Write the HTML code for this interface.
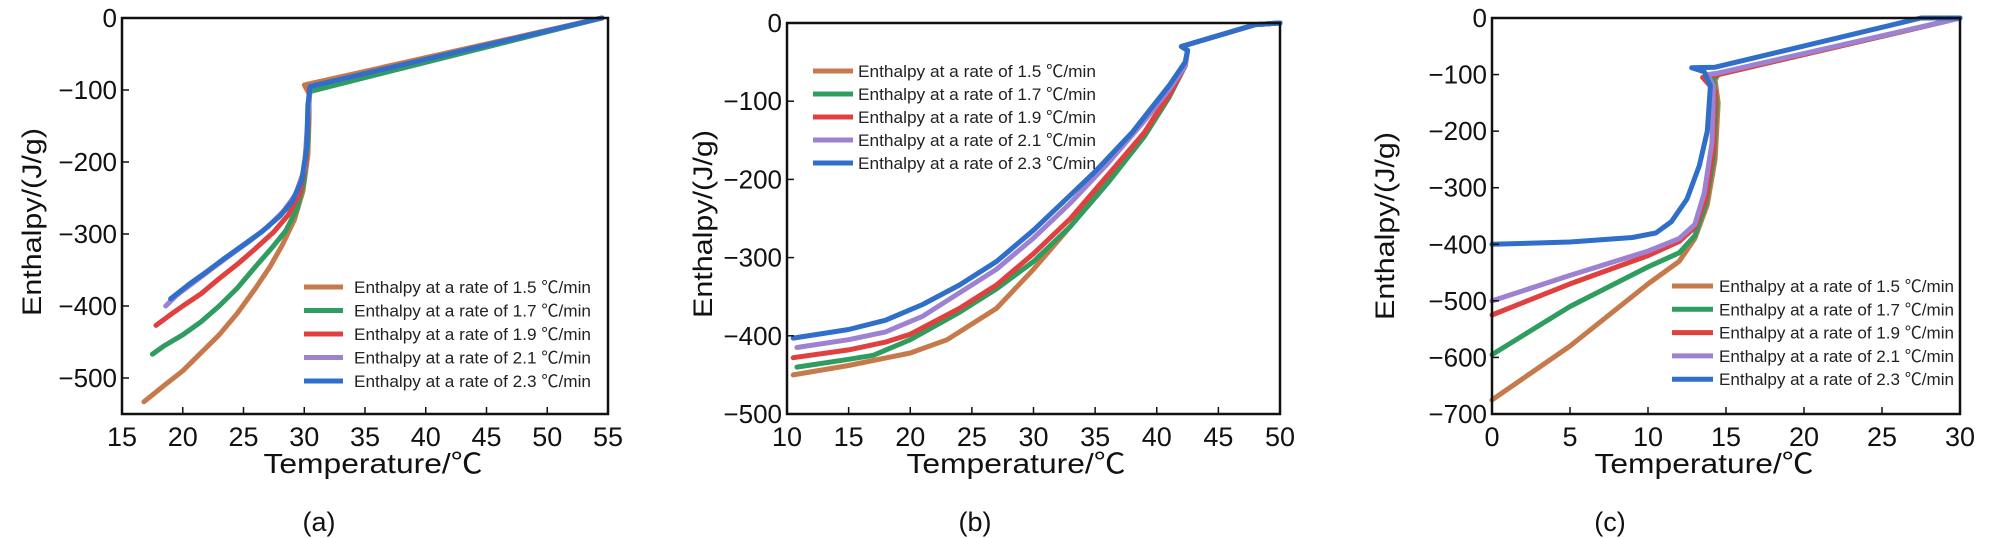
<!DOCTYPE html>
<html><head><meta charset="utf-8"><style>
html,body{margin:0;padding:0;background:#fff;}
svg{display:block;font-family:"Liberation Sans","Noto Sans CJK SC",sans-serif;}
</style></head><body>
<svg id="fig" width="2006" height="538" viewBox="0 0 2006 538"></svg>
<script>
const seriesLabels = ["1.5","1.7","1.9","2.1","2.3"];
const seriesColors = ["#c67a4c","#2f9d5f","#e0413f","#9d82d2","#2f6ec9"];

// Panel (a)
const aXTicks = [15,20,25,30,35,40,45,50,55];
const aYTicks = [0,-100,-200,-300,-400,-500];
const aT = [
 [16.8,18.5,20,21.5,23,24.5,26,27.2,28.2,29.2,29.9,30.3,30.4,30.4,30,54.5],
 [17.5,18.5,20,21.5,23,24.5,26,27.3,28.5,29.4,30,30.3,30.4,30.5,54.5],
 [17.8,19,20,21.5,23,24.5,26,27.5,28.7,29.6,30.1,30.3,30.4,30.5,54.5],
 [18.6,19.5,21,22.5,24,25.5,27,28.3,29.3,30,30.3,30.5,54.5],
 [19,20.5,22,23.5,25,26.5,28,29,29.8,30.2,30.3,30.5,54.5]];
const aH = [
 [-533,-510,-490,-465,-440,-410,-375,-345,-315,-280,-240,-190,-140,-105,-93,0],
 [-467,-455,-440,-422,-400,-375,-345,-320,-295,-265,-225,-170,-110,-102,0],
 [-427,-412,-400,-383,-362,-342,-320,-297,-273,-245,-205,-150,-100,-95,0],
 [-400,-385,-366,-347,-328,-310,-290,-268,-245,-210,-140,-95,0],
 [-390,-370,-352,-333,-315,-297,-275,-255,-225,-180,-120,-95,0]];

// Panel (b)
const bXTicks = [10,15,20,25,30,35,40,45,50];
const bYTicks = [0,-100,-200,-300,-400,-500];
const bT = [
 [10.5,15,20,23,27,30,33,36,39,41,42.3,42.5,42,48,50],
 [10.8,15,17,20,24,27,30,33,36,39,41,42.3,42.5,42,48,50],
 [10.5,15,18,20,24,27,30,33,36,39,41,42.3,42.5,42,48,50],
 [10.8,15,18,21,24,27,30,33,36,39,41,42.3,42.5,42,48,50],
 [10.5,15,18,21,24,27,30,33,35,38,41,42.3,42.5,42,48,50]];
const bH = [
 [-450,-438,-422,-405,-365,-315,-260,-200,-140,-90,-55,-35,-30,-2,0],
 [-440,-430,-425,-405,-370,-340,-305,-260,-205,-145,-95,-55,-35,-30,-2,0],
 [-428,-418,-408,-398,-365,-335,-295,-250,-195,-140,-92,-55,-35,-30,-2,0],
 [-415,-405,-395,-375,-345,-315,-275,-230,-180,-125,-85,-55,-35,-30,-2,0],
 [-403,-392,-380,-360,-335,-305,-265,-220,-190,-140,-80,-50,-35,-30,-2,0]];

// Panel (c)
const cXTicks = [0,5,10,15,20,25,30];
const cYTicks = [0,-100,-200,-300,-400,-500,-600,-700];
const cT = [
 [0,5,10,12,13,13.8,14.3,14.5,14.3,14.5,30],
 [0,5,10,12,13,13.7,14.2,14.4,14.2,14.5,30],
 [0,5,10,12,13,13.7,14.2,14.3,13.5,14.5,30],
 [0,5,10,12,13,13.6,14.1,14.2,13.8,14.4,30],
 [0,5,9,10.5,11.5,12.5,13.3,13.8,14,13.6,12.8,14.3,27.5,30]];
const cH = [
 [-675,-580,-470,-430,-390,-330,-250,-150,-110,-100,0],
 [-595,-510,-440,-415,-385,-330,-250,-150,-108,-100,0],
 [-525,-470,-420,-395,-370,-320,-230,-130,-105,-100,0],
 [-500,-455,-412,-390,-365,-310,-220,-120,-100,-98,0],
 [-400,-396,-388,-380,-360,-320,-260,-200,-120,-95,-88,-87,0,0]];

const NS="http://www.w3.org/2000/svg";
const svg=document.getElementById('fig');
function mk(tag,attrs,parent){const e=document.createElementNS(NS,tag);for(const k in attrs)e.setAttribute(k,attrs[k]);(parent||svg).appendChild(e);return e;}

function panel(id,box,xr,yr,xt,yt,T,H,leg,ytx,ytyc,xtc,lab){
  const g=mk('g',{});
  
  
  const sx=v=>box.l+(v-xr[0])/(xr[1]-xr[0])*(box.r-box.l);
  const sy=v=>box.t+(yr[1]-v)/(yr[1]-yr[0])*(box.b-box.t);
  for(let s=0;s<T.length;s++){
    const d=T[s].map((t,i)=>(i?'L':'M')+sx(t).toFixed(1)+','+sy(H[s][i]).toFixed(1)).join(' ');
    const p=mk('path',{d:d,fill:'none',stroke:seriesColors[s],'stroke-width':5,'stroke-linejoin':'round','stroke-linecap':'round'},g);
    
    
  }
  const frame=mk('rect',{x:box.l,y:box.t,width:box.r-box.l,height:box.b-box.t,fill:'none',stroke:'#111','stroke-width':2.5},g);
  
  
  xt.forEach(v=>{
    const x=sx(v);
    mk('line',{x1:x,x2:x,y1:box.b,y2:box.b-7,stroke:'#111','stroke-width':1.5},g);
    const t=mk('text',{x:x,y:446,'text-anchor':'middle','font-size':27,fill:'#111'},g);
    t.textContent=v;
    
    
  });
  yt.forEach(v=>{
    const y=sy(v);
    mk('line',{x1:box.l,x2:box.l+7,y1:y,y2:y,stroke:'#111','stroke-width':1.5},g);
    const t=mk('text',{x:box.l-5,y:y+9,'text-anchor':'end','font-size':26,fill:'#111'},g);
    t.textContent=v===0?'0':'\u2212'+(-v);
    
    
  });
  const yt1=mk('text',{x:0,y:0,transform:'translate('+ytx+','+ytyc+') rotate(-90)','text-anchor':'middle','font-size':27,fill:'#111',textLength:188,lengthAdjust:'spacingAndGlyphs'},g);
  yt1.textContent='Enthalpy/(J/g)';
  
  
  const xt1=mk('text',{x:xtc,y:473,'text-anchor':'middle','font-size':28,fill:'#111',textLength:219,lengthAdjust:'spacingAndGlyphs'},g);
  xt1.textContent='Temperature/\u2103';
  
  
  const pl=mk('text',{x:lab,y:531,'text-anchor':'middle','font-size':27,fill:'#111'},g);
  pl.textContent='('+id+')';
  
  
  const lg=mk('g',{},g);
  
  
  seriesLabels.forEach((r,i)=>{
    const y=leg.y0+i*leg.dy;
    const e=mk('g',{},lg);
    
    
    mk('line',{x1:leg.lx1,x2:leg.lx2,y1:y,y2:y,stroke:seriesColors[i],'stroke-width':5},e);
    const t=mk('text',{x:leg.tx,y:y+6,'font-size':17,fill:'#222',textLength:leg.tw,lengthAdjust:'spacingAndGlyphs'},e);
    t.textContent='Enthalpy at a rate of  '+r+' \u2103/min';
  });
}

panel('a',{l:122,r:608,t:18,b:414},[15,55],[-550,0],aXTicks,aYTicks,aT,aH,
  {y0:287,dy:23.5,lx1:304,lx2:343,tx:354,tw:237},41,222,373,319);
panel('b',{l:787,r:1280,t:23,b:414},[10,50],[-500,0],bXTicks,bYTicks,bT,bH,
  {y0:71,dy:23,lx1:813,lx2:853,tx:858,tw:238},712,224,1016,975);
panel('c',{l:1492,r:1960,t:18,b:414},[0,30],[-700,0],cXTicks,cYTicks,cT,cH,
  {y0:286,dy:23.3,lx1:1672,lx2:1713,tx:1719,tw:235},1394,226,1704,1610);
</script>
</body></html>
